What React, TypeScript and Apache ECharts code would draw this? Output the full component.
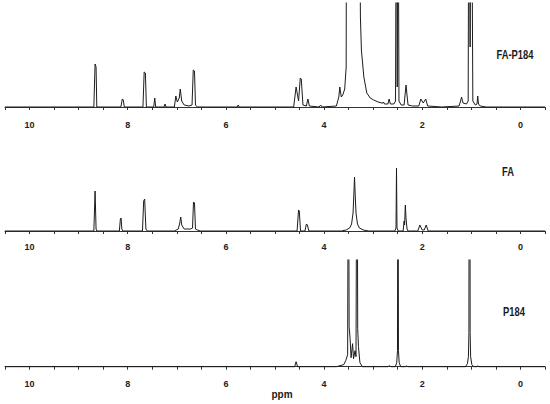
import React, { useEffect, useRef } from "react";
import * as echarts from "echarts";

// Spectra as [ppm, intensity] points (intensity in px-like units above baseline)
const faP184Points: [number, number][] = [
  [10.5, 0], [8.69, 0], [8.665, 43], [8.645, 40], [8.63, 0],
  [8.14, 0], [8.11, 8], [8.09, 7], [8.07, 0],
  [7.69, 0], [7.665, 35], [7.64, 34], [7.62, 0],
  [7.47, 0], [7.45, 9], [7.43, 0],
  [7.26, 0], [7.24, 3], [7.22, 0],
  [7.05, 0], [7.02, 11], [6.99, 5], [6.95, 9], [6.93, 18], [6.9, 6], [6.85, 2], [6.75, 1],
  [6.69, 2], [6.665, 37], [6.64, 36], [6.62, 2], [6.58, 0],
  [5.77, 0], [5.75, 2], [5.73, 0],
  [4.62, 0], [4.57, 20], [4.52, 6], [4.485, 29], [4.465, 28], [4.43, 2], [4.36, 1],
  [4.33, 8], [4.3, 1], [4.1, 0], [4.07, 2], [4.04, 0],
  [3.75, 1], [3.7, 10], [3.68, 20], [3.65, 10], [3.62, 12], [3.58, 18], [3.55, 40],
  [3.54, 400], [3.45, 600], [3.35, 600], [3.29, 300],
  [3.26, 90], [3.24, 57], [3.19, 30], [3.13, 14], [3.06, 9], [2.99, 7], [2.9, 5], [2.82, 4],
  [2.8, 4], [2.79, 5], [2.77, 3], [2.7, 3], [2.675, 8], [2.65, 3], [2.58, 3],
  [2.545, 6], [2.525, 300], [2.51, 20], [2.495, 300], [2.475, 6], [2.43, 2],
  [2.37, 2], [2.345, 15], [2.33, 22], [2.315, 14], [2.29, 2], [2.2, 1],
  [2.07, 1], [2.03, 8], [1.98, 4], [1.93, 8], [1.89, 1], [1.6, 0],
  [1.25, 1], [1.22, 6], [1.2, 10], [1.17, 4], [1.1, 3],
  [1.065, 6], [1.05, 300], [1.025, 60], [1.0, 300], [0.97, 6], [0.92, 2],
  [0.885, 3], [0.87, 11], [0.855, 3], [0.82, 1], [0.7, 0], [-0.5, 0]
];

const faPoints: [number, number][] = [
  [10.5, 0], [8.69, 0], [8.665, 40], [8.645, 2], [8.63, 0],
  [8.17, 0], [8.15, 12], [8.135, 13], [8.12, 2], [8.1, 0],
  [7.7, 0], [7.675, 30], [7.655, 32], [7.63, 2], [7.6, 0],
  [7.05, 0], [6.97, 2], [6.94, 8], [6.92, 14], [6.9, 6], [6.85, 2], [6.72, 2],
  [6.68, 3], [6.66, 29], [6.64, 28], [6.62, 2], [6.58, 1], [6.52, 0],
  [4.55, 0], [4.52, 21], [4.505, 20], [4.48, 0],
  [4.39, 0], [4.36, 7], [4.34, 6], [4.31, 0],
  [3.65, 0], [3.55, 1], [3.48, 3], [3.44, 7], [3.41, 18], [3.395, 35], [3.38, 54],
  [3.365, 35], [3.35, 18], [3.32, 7], [3.28, 3], [3.2, 1], [3.1, 0],
  [2.56, 0], [2.535, 3], [2.525, 63], [2.515, 3], [2.49, 0],
  [2.39, 0], [2.37, 10], [2.36, 6], [2.345, 26], [2.33, 12], [2.31, 2], [2.29, 0],
  [2.09, 0], [2.05, 6], [2.0, 1], [1.96, 1], [1.92, 6], [1.88, 0],
  [-0.5, 0]
];

const p184Points: [number, number][] = [
  [10.5, 0], [4.6, 0], [4.57, 5], [4.54, 0],
  [3.75, 0], [3.68, 1], [3.6, 2], [3.56, 6], [3.52, 12],
  [3.505, 300], [3.49, 40], [3.47, 28], [3.45, 9], [3.42, 23], [3.4, 8], [3.37, 16], [3.35, 10],
  [3.33, 300], [3.315, 38], [3.3, 20], [3.27, 4], [3.22, 0],
  [2.7, 0], [2.67, 1], [2.64, 0],
  [2.55, 0], [2.52, 4], [2.505, 16], [2.495, 300], [2.485, 16], [2.47, 4], [2.44, 0],
  [2.34, 0], [2.32, 1], [2.3, 0],
  [1.12, 0], [1.08, 3], [1.06, 10], [1.05, 34], [1.045, 300], [1.03, 300], [1.025, 34], [1.015, 10], [0.99, 2], [0.95, 0],
  [0.89, 0], [0.87, 1], [0.85, 0], [-0.5, 0]
];

const spectrumNames = ["FA-P184", "FA", "P184"];
const ppmMin = -0.5;
const ppmMax = 10.5;
const ppmStep = 0.5;

export default function App() {
  const ref = useRef<HTMLDivElement>(null);
  useEffect(() => {
    if (!ref.current) return;
    const chart = echarts.init(ref.current, undefined, { renderer: "svg" });
    const font = "Liberation Sans, Arial, sans-serif";
    const grids = [
      { left: 5, width: 540, top: 3, height: 110.3, yMin: -6.3, yMax: 104 },
      { left: 5, width: 540, top: 140, height: 95.7, yMin: -4.7, yMax: 91 },
      { left: 5, width: 540, top: 260, height: 112.3, yMin: -5.6, yMax: 106.7 }
    ];
    const datasets = [faP184Points, faPoints, p184Points];
    const xAxis = grids.map((_, i) => ({
      type: "value" as const,
      gridIndex: i,
      inverse: true,
      min: ppmMin,
      max: ppmMax,
      interval: ppmStep,
      splitLine: { show: false },
      axisLine: { show: true, lineStyle: { color: "#333", width: 1 } },
      axisTick: { show: true, length: 3, lineStyle: { color: "#333" } },
      axisLabel: {
        show: true,
        margin: 7,
        fontSize: 9,
        fontWeight: "bold" as const,
        fontFamily: font,
        color: "#222",
        formatter: (v: number) => {
          const r = Math.round(v);
          return Math.abs(v - r) < 1e-6 && r % 2 === 0 ? String(r) : "";
        }
      }
    }));
    const yAxis = grids.map((g, i) => ({
      type: "value" as const,
      gridIndex: i,
      min: g.yMin,
      max: g.yMax,
      show: false
    }));
    const series = datasets.map((d, i) => ({
      type: "line" as const,
      name: spectrumNames[i],
      xAxisIndex: i,
      yAxisIndex: i,
      data: d,
      showSymbol: false,
      symbol: "none",
      clip: true,
      lineStyle: { color: "#1c1c1c", width: 1 }
    }));
    const labelPos = [
      { x: 515, y: 55 },
      { x: 508, y: 172 },
      { x: 514, y: 312 }
    ];
    chart.setOption({
      animation: false,
      backgroundColor: "#fff",
      grid: grids.map((g) => ({ left: g.left, width: g.width, top: g.top, height: g.height })),
      xAxis,
      yAxis,
      series,
      graphic: [
        ...spectrumNames.map((n, i) => ({
          type: "text",
          x: labelPos[i].x,
          y: labelPos[i].y,
          scaleX: 0.78,
          style: {
            text: n,
            font: `bold 12px ${font}`,
            fill: "#1a1a1a",
            textAlign: "center",
            textVerticalAlign: "middle"
          }
        })),
        {
          type: "text",
          x: 282,
          y: 394,
          style: {
            text: "ppm",
            font: `bold 10px ${font}`,
            fill: "#1a1a1a",
            textAlign: "center",
            textVerticalAlign: "middle"
          }
        }
      ]
    });
    return () => chart.dispose();
  }, []);
  return (
    <div
      ref={ref}
      style={{ position: "absolute", left: 0, top: 0, width: 550, height: 404 }}
    />
  );
}
